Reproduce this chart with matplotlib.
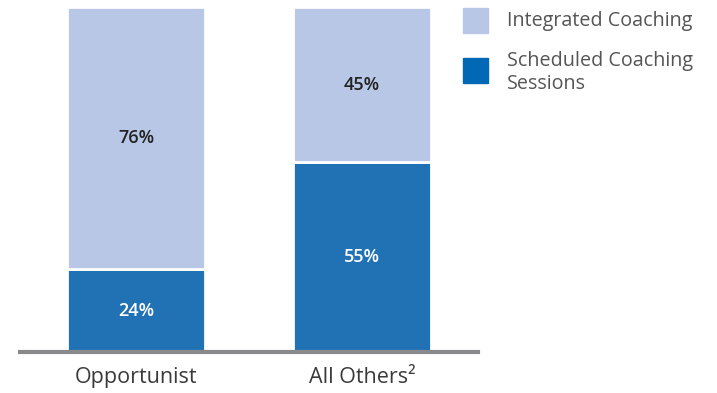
import matplotlib.pyplot as plt
from matplotlib.patches import Rectangle

plt.rcParams['font.family'] = ['Open Sans', 'DejaVu Sans']

# stacked shares per group
groups = ['Opportunist', 'All Others²']
scheduled = [24, 55]
integrated = [76, 45]

dark_blue = '#2171B5'
light_blue = '#B8C7E6'

fig = plt.figure(figsize=(7.17, 3.93), dpi=100)
ax = fig.add_axes([20 / 717, 1 - 352 / 393, 458 / 717, 345 / 393])

x = range(len(groups))
width = 0.61
ax.bar(x, scheduled, width=width, color=dark_blue, edgecolor='white', linewidth=2)
ax.bar(x, integrated, width=width, bottom=scheduled, color=light_blue,
       edgecolor='white', linewidth=2)

for i in x:
    ax.text(i, scheduled[i] / 2, f'{scheduled[i]}%', ha='center', va='center',
            color='white', fontsize=13, fontweight='semibold')
    ax.text(i, scheduled[i] + integrated[i] / 2, f'{integrated[i]}%', ha='center',
            va='center', color='#222222', fontsize=13, fontweight='semibold')

ax.set_xlim(-0.513, 1.513)
ax.set_ylim(0, 100)
ax.set_xticks(list(x))
ax.set_xticklabels(groups, fontsize=15.5, color='#3a3a3a')
ax.tick_params(axis='x', length=0, pad=11)
ax.set_yticks([])
for side in ['top', 'right', 'left']:
    ax.spines[side].set_visible(False)
ax.spines['bottom'].set_color('#898a8c')
ax.spines['bottom'].set_linewidth(3)

# legend drawn in figure pixel space
W, H = 717, 393
legend_items = [('Integrated Coaching', light_blue, 8, 21),
                ('Scheduled Coaching\nSessions', '#0068B4', 58, 72.5)]
for label, color, top, text_y in legend_items:
    fig.patches.append(Rectangle((463 / W, 1 - (top + 25) / H), 25 / W, 25 / H,
                                 transform=fig.transFigure, color=color))
    fig.text(507 / W, 1 - text_y / H, label, ha='left', va='center',
             fontsize=14.2, color='#555555', linespacing=1.22)

fig.savefig('out.png', dpi=100, facecolor='white')
